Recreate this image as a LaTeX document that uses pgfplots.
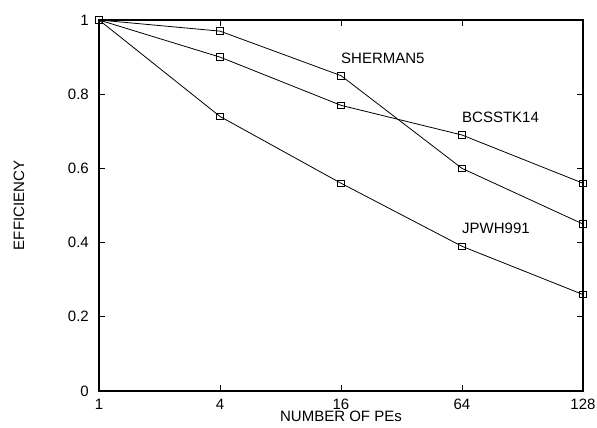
\documentclass[border=0pt]{standalone}
\usepackage{fontspec}
\setmainfont{Liberation Sans}
\usepackage{pgfplots}
\pgfplotsset{compat=1.18}
\begin{document}
\fontsize{15}{18}\selectfont
\begin{tikzpicture}
\begin{axis}[
  scale only axis, width=484pt, height=371pt,
  xmin=0, xmax=4, ymin=0, ymax=1,
  xtick={0,1,2,3,4}, xticklabels={1,4,16,64,128},
  ytick={0,0.2,0.4,0.6,0.8,1},
  yticklabels={0,0.2,0.4,0.6,0.8,1},
  /pgf/number format/assume math mode=true,
  tick align=inside, tick pos=both, major tick length=6pt,
  axis line style={line width=1.2pt},
  tick style={line width=0.8pt, black},
  yticklabel style={xshift=-5pt},
  xticklabel style={inner sep=1pt, yshift=-7pt},
  xlabel={NUMBER OF PEs}, ylabel={EFFICIENCY},
  x label style={at={(axis description cs:0.5,-0.0674)}, anchor=center, inner sep=1pt},
  y label style={at={(axis description cs:-0.1653,0.5)}, anchor=center},
  clip=false,
]
\addplot[black, line width=0.8pt, mark=square, mark size=3.3pt, mark options={solid, line width=0.8pt}] coordinates {(0,1) (1,0.97) (2,0.85) (3,0.60) (4,0.45)};
\addplot[black, line width=0.8pt, mark=square, mark size=3.3pt, mark options={solid, line width=0.8pt}] coordinates {(0,1) (1,0.90) (2,0.77) (3,0.69) (4,0.56)};
\addplot[black, line width=0.8pt, mark=square, mark size=3.3pt, mark options={solid, line width=0.8pt}] coordinates {(0,1) (1,0.74) (2,0.56) (3,0.39) (4,0.26)};
\node[anchor=west, inner sep=0pt] at (axis cs:2.0,0.8976) {SHERMAN5};
\node[anchor=west, inner sep=0pt] at (axis cs:3.0,0.7385) {BCSSTK14};
\node[anchor=west, inner sep=0pt] at (axis cs:3.0,0.4394) {JPWH991};
\end{axis}
\path ([shift={(-99pt,-37pt)}]current axis.south west) rectangle ([shift={(14pt,20pt)}]current axis.north east);
\end{tikzpicture}
\end{document}
